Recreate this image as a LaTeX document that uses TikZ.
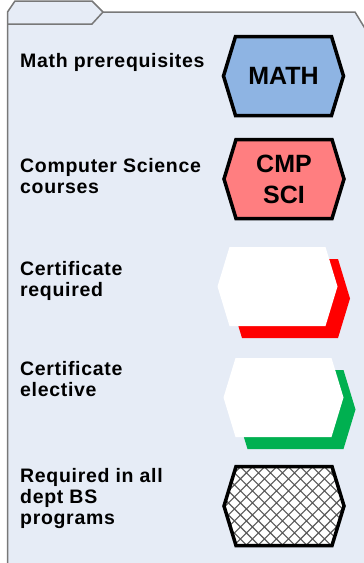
\documentclass[tikz,border=0pt]{standalone}
\usepackage{fontspec}
\setmainfont{Liberation Sans}
\newfontfamily\lblfont[LetterSpace=3.5]{Liberation Sans}
\usetikzlibrary{patterns.meta}
\definecolor{folderfill}{RGB}{230,236,246}
\definecolor{foldergray}{RGB}{120,120,120}
\definecolor{mathblue}{RGB}{142,180,227}
\definecolor{cmpred}{RGB}{255,126,128}
\definecolor{certred}{RGB}{255,0,0}
\definecolor{certgreen}{RGB}{0,176,80}
% hexagon round a centre
\newcommand{\hexat}[2]{(#1-60,#2) -- (#1-48,#2-39.5) -- (#1+48,#2-39.5) -- (#1+60,#2) -- (#1+48,#2+39.5) -- (#1-48,#2+39.5) -- cycle}

\begin{document}
\begin{tikzpicture}[x=1pt,y=-1pt,
	hexline/.style={draw=black,line width=3.5pt,line join=miter},
	hextext/.style={align=center,inner sep=0pt,font=\bfseries\fontsize{25}{31}\selectfont},
	legendtext/.style={anchor=base west,align=left,inner sep=0pt,font=\lblfont\bfseries\fontsize{19.5}{21}\selectfont}]
	\clip (0,0) rectangle (364,563);
	% folder
	\draw[fill=folderfill,draw=foldergray,line width=1.5pt] (7.5,12) -- (15,1) -- (92,1) -- (103,12) -- (355,12) -- (372,40) -- (372,580) -- (7.5,580) -- cycle;
	\draw[foldergray,line width=1.5pt] (7.5,24) -- (92,24) -- (103,12);
	% legend shapes
	\draw[hexline,fill=mathblue] \hexat{283.5}{76};
	\draw[hexline,fill=cmpred] \hexat{284}{179};
	\fill[certred] \hexat{290}{298.5};
	\fill[white] \hexat{277.5}{286.5};
	\fill[certgreen] \hexat{295.5}{409.5};
	\fill[white] \hexat{283.5}{397.5};
	\draw[hexline,preaction={fill=white},pattern={Hatch[angle=45,distance=8.5pt,line width=1.1pt]},pattern color=black!65] \hexat{284}{506};
	\node[hextext] (math) at (283.5,76) {MATH};
	\node[hextext] (cmpsci) at (284,179.5) {CMP\\SCI};
	% legend texts (anchored at the last baseline)
	\node[legendtext] (mathlbl) at (20,67) {Math prerequisites};
	\node[legendtext] (cslbl) at (20,193) {Computer Science\\courses};
	\node[legendtext] (reqlbl) at (20,296) {Certificate\\required};
	\node[legendtext] (eleclbl) at (20,396) {Certificate\\elective};
	\node[legendtext] (alllbl) at (20,524) {Required in all\\dept BS\\programs};
\end{tikzpicture}
\end{document}
